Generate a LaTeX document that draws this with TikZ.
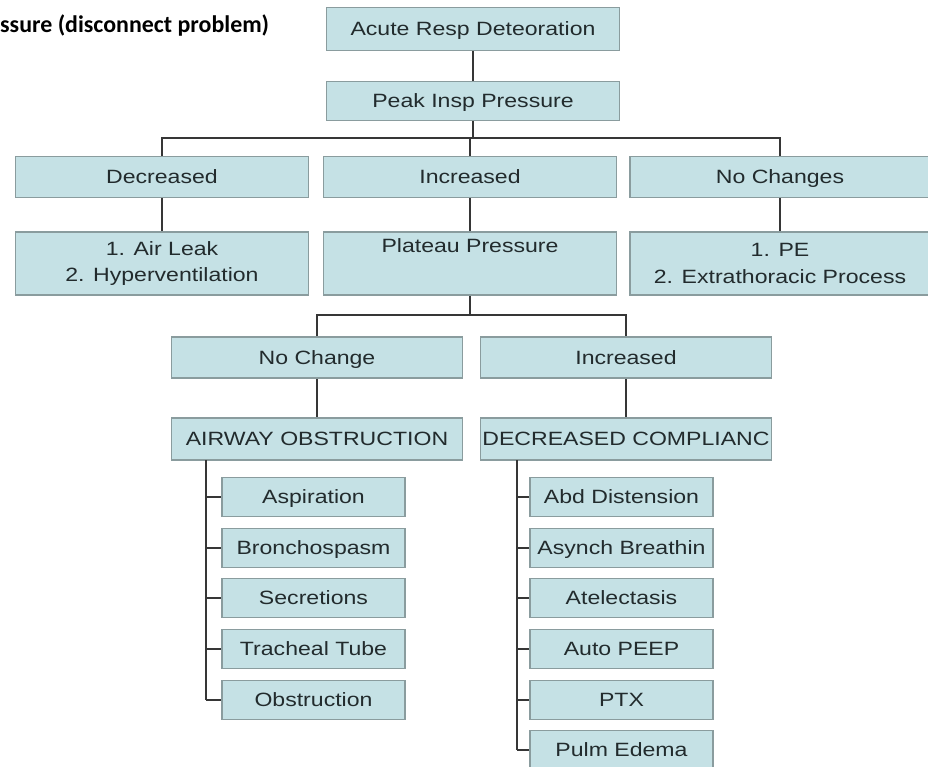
\documentclass[tikz,border=0pt]{standalone}
\usepackage{fontspec}
\setmainfont{Liberation Sans}[FakeStretch=1.2]
\newfontfamily\titlefont{Carlito}
\definecolor{boxfill}{HTML}{C5E1E5}
\definecolor{boxline}{HTML}{8A9C9E}
\definecolor{wirecol}{HTML}{363636}
\definecolor{inkcol}{HTML}{222B2D}
\tikzset{
  box/.style={draw=boxline, line width=1.6bp, fill=boxfill, inner sep=0pt,
    text=inkcol, align=center, font=\fontsize{19.3}{27}\selectfont},
  oneline/.style={text height=13.8bp, text depth=0bp},
  wide/.style={box, minimum width=293bp, minimum height=41bp},
  leaf/.style={box, oneline, minimum width=183bp, minimum height=39bp},
  wire/.style={draw=wirecol, line width=1.9bp},
}
\begin{document}
\begin{tikzpicture}[x=1bp, y=-1bp]
\useasboundingbox (0,0) rectangle (928,767);
\clip (0,0) rectangle (928,767);
\fill[white] (0,0) rectangle (928,767);

% heading
\node[anchor=base west, inner sep=0pt, text=black,
  font=\titlefont\bfseries\fontsize{24}{28}\selectfont] (title) at (0,33)
  {ssure (disconnect problem)};

% top of the tree
\node[wide, oneline, minimum height=43bp] (acute) at (473,29) {Acute Resp Deteoration};
\node[wide, oneline, minimum height=39bp] (peak) at (473,101) {Peak Insp Pressure};

% first split
\node[wide, oneline] (dec) at (162,177) {Decreased};
\node[wide, oneline] (inc) at (470,177) {Increased};
\node[wide, oneline, minimum width=300bp] (noch) at (780,177) {No Changes};

\node[wide, minimum height=63bp] (leak) at (162,263.5) {1. Air Leak\\2. Hyperventilation};
\node[wide, minimum height=63bp] (plateau) at (470,263.5) {Plateau Pressure\\\strut};
\node[wide, minimum height=63bp, minimum width=300bp] (pe) at (780,263.5) {1. PE\\2. Extrathoracic Process};

% second split
\node[wide, oneline, minimum width=291bp] (nochg) at (317,357.5) {No Change};
\node[wide, oneline, minimum width=291bp] (incr) at (626,357.5) {Increased};
\node[wide, oneline, minimum width=291bp, minimum height=42bp] (airway) at (317,439) {AIRWAY OBSTRUCTION};
\node[wide, oneline, minimum width=291bp, minimum height=42bp] (comp) at (626,439) {DECREASED COMPLIANC};

% causes of airway obstruction
\node[leaf] (a1) at (313.5,497) {Aspiration};
\node[leaf] (a2) at (313.5,548) {Bronchospasm};
\node[leaf] (a3) at (313.5,598) {Secretions};
\node[leaf] (a4) at (313.5,649) {Tracheal Tube};
\node[leaf] (a5) at (313.5,700) {Obstruction};

% causes of decreased compliance
\node[leaf] (c1) at (621.5,497) {Abd Distension};
\node[leaf] (c2) at (621.5,548) {Asynch Breathin};
\node[leaf] (c3) at (621.5,598) {Atelectasis};
\node[leaf] (c4) at (621.5,649) {Auto PEEP};
\node[leaf] (c5) at (621.5,700) {PTX};
\node[leaf] (c6) at (621.5,750) {Pulm Edema};

% connectors
\coordinate (bus1) at (473,138);
\coordinate (bus2) at (470,315);
\coordinate (ltrunk) at (206,460);
\coordinate (rtrunk) at (517,460);

\draw[wire] (acute) -- (peak);
\draw[wire] (peak.south) -- (bus1);
\draw[wire] (dec.north) |- (bus1) -| (noch.north);
\draw[wire] (bus1) -- (bus1 -| inc.north) -- (inc.north);
\draw[wire] (dec) -- (leak);
\draw[wire] (inc) -- (plateau);
\draw[wire] (noch) -- (pe);
\draw[wire] (plateau.south) -- (bus2);
\draw[wire] (nochg.north) |- (bus2) -| (incr.north);
\draw[wire] (nochg) -- (airway);
\draw[wire] (incr) -- (comp);

\draw[wire] (ltrunk) -- (ltrunk |- a5.west);
\foreach \n in {a1,a2,a3,a4,a5}
  \draw[wire] (ltrunk |- \n.west) -- (\n.west);
\draw[wire] (rtrunk) -- (rtrunk |- c6.west);
\foreach \n in {c1,c2,c3,c4,c5,c6}
  \draw[wire] (rtrunk |- \n.west) -- (\n.west);
\end{tikzpicture}
\end{document}
